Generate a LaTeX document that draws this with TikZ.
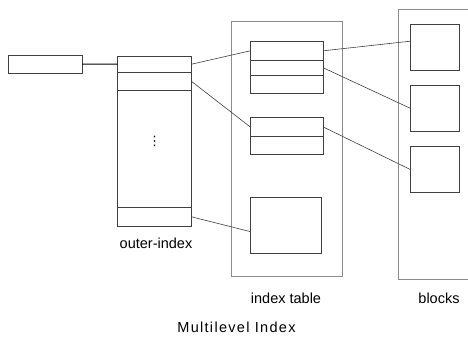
\documentclass[tikz,border=0pt]{standalone}
\usepackage{fontspec}
\setmainfont{Liberation Sans}
\newfontfamily\symfont{DejaVu Sans}
\begin{document}
\begin{tikzpicture}[x=1pt,y=-1pt,
  cell/.style={draw=black!75,line width=0.8pt,rectangle,inner sep=0pt,outer sep=0pt},
  frame/.style={draw=black!45,line width=1pt},
  link/.style={draw=black!75,line width=0.6pt},
  lbl/.style={inner sep=0pt,font=\fontsize{14.5}{17}\selectfont}]
\useasboundingbox (0,0) rectangle (468,338);
% pointer box
\node[cell,minimum width=74pt,minimum height=18pt] (ptr) at (45,64) {};
% outer-index column
\node[cell,minimum width=74pt,minimum height=16.3pt] (o1) at (154.7,64.15) {};
\node[cell,minimum width=74pt,minimum height=18.4pt] (o2) at (154.7,81.5) {};
\node[cell,minimum width=74pt,minimum height=117pt] (om) at (154.7,149.2) {};
\node[cell,minimum width=74pt,minimum height=18.3pt] (o3) at (154.7,216.85) {};
\node[inner sep=0pt,font=\symfont\fontsize{13}{15}\selectfont] (dots) at (154.7,141.5) {⋮};
% index table frame
\draw[frame] (231,21.7) rectangle (342.7,276.7);
% group 1
\node[cell,minimum width=73pt,minimum height=19pt] (g11) at (286.8,50.8) {};
\node[cell,minimum width=73pt,minimum height=15pt] (g12) at (286.8,67.8) {};
\node[cell,minimum width=73pt,minimum height=18pt] (g13) at (286.8,84.3) {};
% group 2
\node[cell,minimum width=73pt,minimum height=18.6pt] (g21) at (286.8,127) {};
\node[cell,minimum width=73pt,minimum height=18.4pt] (g22) at (286.8,145.5) {};
% box 3
\node[cell,minimum width=71.4pt,minimum height=56pt] (bx3) at (286,225.3) {};
% blocks frame
\draw[frame] (468,9) -- (398.3,9) -- (398.3,279) -- (468,279);
% blocks
\node[cell,minimum width=49pt,minimum height=46pt] (b1) at (434.8,47.3) {};
\node[cell,minimum width=49pt,minimum height=46pt] (b2) at (434.8,108.3) {};
\node[cell,minimum width=49pt,minimum height=45.6pt] (b3) at (434.8,169.5) {};
% connectors
\draw[draw=black,line width=1pt] (ptr.east) -- (o1.west);
\draw[link] (o1.east) -- (g11.west);
\draw[link] (o2.east) -- (g21.west);
\draw[link] (o3.east) -- (bx3.190);
\draw[link] (g11.east) -- (b1.166);
\draw[link] (g12.east) -- (b2.west);
\draw[link] (g21.east) -- (b3.west);
% labels
\node[lbl] (lo) at (156,243) {outer-index};
\node[lbl] (lit) at (286,298) {index table};
\node[lbl] (lb) at (439,298) {blocks};
\node[lbl,font=\fontsize{14.5}{17}\selectfont\addfontfeature{LetterSpace=9}] (title) at (236.5,327) {Multilevel Index};
\end{tikzpicture}
\end{document}
